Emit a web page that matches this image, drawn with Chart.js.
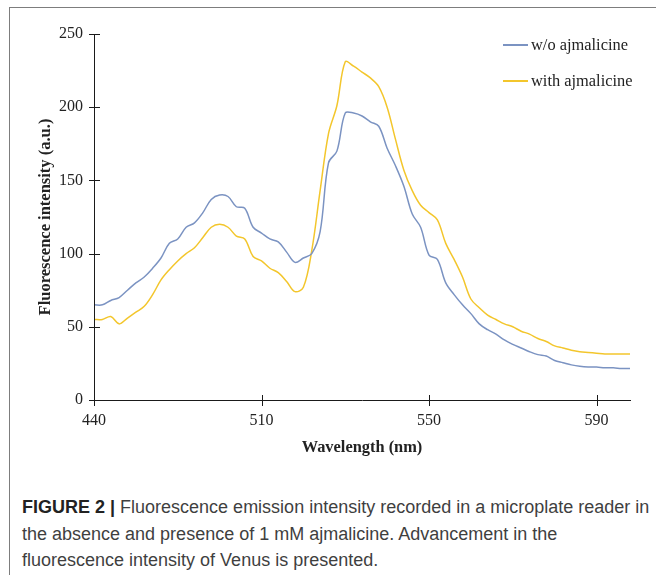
<!DOCTYPE html>
<html>
<head>
<meta charset="utf-8">
<script src="https://cdn.jsdelivr.net/npm/chart.js@4.4.1/dist/chart.umd.min.js"></script>
<style>
  html, body { margin: 0; padding: 0; background: #fff; }
  body { width: 656px; height: 575px; position: relative; overflow: hidden; }
  #frame {
    position: absolute; left: 9px; top: 7px; width: 700px; height: 620px;
    border-top: 1px solid #7d7d7d; border-left: 1px solid #7d7d7d;
  }
  #chartBox { position: absolute; left: 10px; top: 8px; width: 646px; height: 460px; }
  #legend {
    position: absolute; left: 503px; top: 36px;
    font-family: "Liberation Serif", "Times New Roman", serif; font-size: 16.4px; color: #222;
  }
  #legend .row { display: flex; align-items: center; height: 18px; margin-bottom: 18px; }
  #legend .swatch { width: 25px; height: 1.5px; margin-right: 3px; }
  #caption {
    position: absolute; left: 22px; top: 494px; width: 640px; margin: 0;
    font-family: "Liberation Sans", Arial, sans-serif; font-size: 18px; line-height: 26.6px;
    color: #3f3f3f;
  }
  #caption b { color: #222; }
</style>
</head>
<body>
<div id="frame"></div>
<div id="chartBox"><canvas id="spectrum"></canvas></div>
<div id="legend"></div>
<p id="caption"><b>FIGURE 2 |</b> Fluorescence emission intensity recorded in a microplate reader in<br>the absence and presence of 1 mM ajmalicine. Advancement in the<br>fluorescence intensity of Venus is presented.</p>

<script>
  // emission wavelengths (nm) for each reading
  const wavelengths = [
    440, 443.5, 447, 450.5, 454, 457.5, 461, 464.5, 468, 471.5,
    475, 478.5, 482, 485.5, 489, 492.5, 496, 499.5, 503, 506.5,
    510, 512, 514, 516, 518, 520, 522, 524, 526, 528,
    530, 532, 534, 536, 538, 540, 542, 544, 546, 548,
    550, 552, 554, 556, 558, 560, 562, 564, 566, 568,
    570, 572, 574, 576, 578, 580, 582, 584, 586, 588,
    590, 592, 594, 596, 598
  ];

  const withoutAjmalicine = [
    65, 65, 68, 70, 75, 80, 84, 90, 97, 107,
    110, 118, 121, 128, 137, 140, 139, 132, 131, 118,
    114, 110, 108, 101, 94, 97, 100, 115, 162, 170,
    196, 196, 194, 190, 187, 172, 160, 146, 127, 118,
    99, 96, 80, 72, 65, 59, 52, 48, 45, 41,
    38, 35.5, 33, 31, 30, 27, 25.5, 24, 23, 22.5,
    22.5, 22, 22, 21.5, 21.5
  ];

  const withAjmalicine = [
    55, 55, 57, 52, 56, 60, 64, 72, 82, 89,
    95, 100, 104, 111, 118, 120, 118, 112, 110, 98,
    95, 90, 87, 81, 74, 77, 102, 143, 182, 201,
    231, 228, 224, 220, 214, 200, 178, 157, 143, 133,
    128, 123, 107, 96, 84, 69, 63, 58, 55, 52,
    50, 47, 45, 42, 40, 37, 35.5, 34, 33, 32.5,
    32, 31.5, 31.5, 31.5, 31.5
  ];

  const seriesNames = ["w/o ajmalicine", "with ajmalicine"];
  const seriesColors = ["#7b93c2", "#f3c62c"];
  const labelEvery = 20;
  const serif = "'Liberation Serif', 'Times New Roman', serif";

  // axis lines with small ticks that cross both sides of the axis
  const crossTicks = {
    id: "crossTicks",
    afterDraw(chart) {
      const { ctx, chartArea, scales } = chart;
      const x = scales.x, y = scales.y;
      ctx.save();
      ctx.strokeStyle = "#1a1a1a";
      ctx.lineWidth = 1;
      ctx.beginPath();
      ctx.moveTo(chartArea.left + 0.5, chartArea.top);
      ctx.lineTo(chartArea.left + 0.5, chartArea.bottom);
      ctx.moveTo(chartArea.left, chartArea.bottom + 0.5);
      ctx.lineTo(chartArea.right + 1, chartArea.bottom + 0.5);
      y.ticks.forEach(t => {
        const py = Math.round(y.getPixelForValue(t.value)) + 0.5;
        ctx.moveTo(chartArea.left - 5, py);
        ctx.lineTo(chartArea.left + 6, py);
      });
      for (let i = 0; i < wavelengths.length; i += labelEvery) {
        const px = Math.round(x.getPixelForValue(i)) + 0.5;
        ctx.moveTo(px, chartArea.bottom - 5);
        ctx.lineTo(px, chartArea.bottom + 6);
      }
      ctx.stroke();
      ctx.restore();
    }
  };

  function makeDataset(label, data, color) {
    return {
      label,
      data,
      borderColor: color,
      backgroundColor: color,
      borderWidth: 1.5,
      pointRadius: 0,
      tension: 0.35,
      fill: false
    };
  }

  function buildLegend() {
    const box = document.getElementById("legend");
    seriesNames.forEach((name, i) => {
      const row = document.createElement("div");
      row.className = "row";
      const sw = document.createElement("span");
      sw.className = "swatch";
      sw.style.background = seriesColors[i];
      const txt = document.createElement("span");
      txt.textContent = name;
      row.appendChild(sw);
      row.appendChild(txt);
      box.appendChild(row);
    });
  }

  const ctx = document.getElementById("spectrum").getContext("2d");
  new Chart(ctx, {
    type: "line",
    data: {
      labels: wavelengths,
      datasets: [
        makeDataset(seriesNames[0], withoutAjmalicine, seriesColors[0]),
        makeDataset(seriesNames[1], withAjmalicine, seriesColors[1])
      ]
    },
    options: {
      responsive: true,
      maintainAspectRatio: false,
      animation: false,
      layout: { padding: { left: 0, right: 26, top: 26, bottom: 4 } },
      plugins: {
        legend: { display: false },
        tooltip: { enabled: false }
      },
      scales: {
        x: {
          type: "category",
          offset: false,
          grid: { display: false, drawTicks: false },
          border: { display: false },
          ticks: {
            autoSkip: false,
            maxRotation: 0,
            padding: 11,
            color: "#222",
            font: { family: serif, size: 16 },
            callback(value, index) {
              return index % labelEvery === 0 ? String(wavelengths[index]) : "";
            }
          },
          title: {
            display: true,
            text: "Wavelength (nm)",
            color: "#222",
            font: { family: serif, size: 16.4, weight: "bold" },
            padding: { top: 12, bottom: 6 }
          },
          afterFit(scale) { scale.height = 64; }
        },
        y: {
          min: 0,
          max: 250,
          grid: { display: false, drawTicks: false },
          border: { display: false },
          ticks: {
            stepSize: 50,
            padding: 11,
            color: "#222",
            font: { family: serif, size: 16 }
          },
          title: {
            display: true,
            text: "Fluorescence intensity (a.u.)",
            color: "#222",
            font: { family: serif, size: 16.5, weight: "bold" },
            padding: { top: 26, bottom: 0 }
          },
          afterFit(scale) { scale.width = 84; }
        }
      }
    },
    plugins: [crossTicks]
  });

  buildLegend();
</script>
</body>
</html>
